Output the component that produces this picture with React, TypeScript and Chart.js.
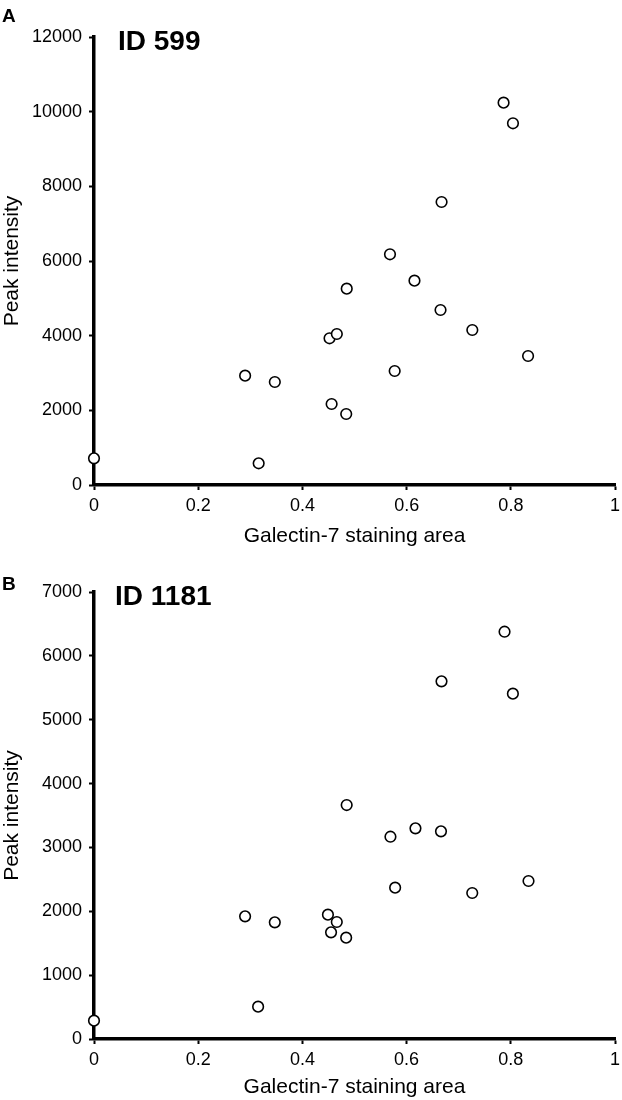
import React, { useEffect, useRef } from 'react';
import { Chart, registerables } from 'chart.js';

Chart.register(...registerables);

// ---- Data ----
const galectinAreaA = [0, 0.29, 0.316, 0.347, 0.452, 0.456, 0.466, 0.484, 0.485, 0.568, 0.577, 0.615, 0.665, 0.667, 0.726, 0.786, 0.804, 0.833];
const peakIntensityA = [714, 2929, 581, 2759, 3930, 2170, 4045, 1902, 5259, 6180, 3054, 5473, 4688, 7581, 4152, 10241, 9689, 3456];

const galectinAreaB = [0, 0.29, 0.315, 0.347, 0.449, 0.455, 0.466, 0.484, 0.485, 0.569, 0.578, 0.617, 0.666, 0.667, 0.726, 0.788, 0.804, 0.834];
const peakIntensityB = [287, 1921, 506, 1827, 1947, 1670, 1832, 1587, 3664, 3168, 2370, 3299, 3252, 5601, 2286, 6378, 5408, 2474];

const xTicks = [0, 0.2, 0.4, 0.6, 0.8, 1];
const yTicksA = [0, 2000, 4000, 6000, 8000, 10000, 12000];
const yTicksB = [0, 1000, 2000, 3000, 4000, 5000, 6000, 7000];

const panelLetters = ['A', 'B'];
const panelTitles = ['ID 599', 'ID 1181'];
const xAxisTitle = 'Galectin-7 staining area';
const yAxisTitle = 'Peak intensity';

const FONT = '"Liberation Sans", Arial, Helvetica, sans-serif';

const labelPlugin = {
  id: 'panelLabels',
  afterDraw(chart: any, _args: any, opts: any) {
    const ctx = chart.ctx;
    ctx.save();
    ctx.fillStyle = '#000';
    ctx.textBaseline = 'alphabetic';
    ctx.textAlign = 'left';
    ctx.font = `bold 19px ${FONT}`;
    ctx.fillText(opts.letter, 2, opts.letterY);
    ctx.font = `bold 28px ${FONT}`;
    ctx.fillText(opts.title, opts.titleX, opts.titleY);
    ctx.restore();
  },
};

type PanelProps = {
  xs: number[];
  ys: number[];
  yTicks: number[];
  letter: string;
  title: string;
  top: number;
  height: number;
  padTop: number;
  padRight: number;
  xAxisHeight: number;
  letterY: number;
  titleX: number;
  titleY: number;
};

function Panel(p: PanelProps) {
  const ref = useRef<HTMLCanvasElement | null>(null);
  useEffect(() => {
    if (!ref.current) return;
    const data = p.xs.map((x, i) => ({ x, y: p.ys[i] }));
    const yMax = p.yTicks[p.yTicks.length - 1];
    const chart = new Chart(ref.current, {
      type: 'scatter',
      data: {
        datasets: [
          {
            data,
            pointRadius: 5.3,
            pointHoverRadius: 5.3,
            pointBorderWidth: 1.6,
            pointBorderColor: '#000',
            pointBackgroundColor: '#fff',
            pointStyle: 'circle',
            showLine: false,
            clip: false as any,
          },
        ],
      },
      options: {
        responsive: false,
        animation: false,
        events: [],
        layout: { padding: { top: p.padTop, right: p.padRight, left: 0, bottom: 0 } },
        plugins: {
          legend: { display: false },
          tooltip: { enabled: false },
          panelLabels: { letter: p.letter, title: p.title, letterY: p.letterY, titleX: p.titleX, titleY: p.titleY },
        } as any,
        scales: {
          x: {
            type: 'linear',
            min: 0,
            max: 1,
            afterBuildTicks: (s: any) => {
              s.ticks = xTicks.map((v) => ({ value: v }));
            },
            afterFit: (s: any) => {
              s.height = p.xAxisHeight;
              s.paddingLeft = 0;
              s.paddingRight = 0;
            },
            grid: {
              drawOnChartArea: false,
              drawTicks: true,
              tickLength: 5,
              tickWidth: 2,
              tickColor: '#000',
            },
            border: { display: true, color: '#000', width: 3.5 },
            ticks: {
              color: '#000',
              padding: 5,
              maxRotation: 0,
              autoSkip: false,
              callback: (v: any) => String(v),
              font: { family: FONT, size: 18 },
            },
            title: {
              display: true,
              text: xAxisTitle,
              color: '#000',
              padding: { top: 0, bottom: 0 },
              font: { family: FONT, size: 21 },
            },
          },
          y: {
            type: 'linear',
            min: 0,
            max: yMax,
            afterBuildTicks: (s: any) => {
              s.ticks = p.yTicks.map((v) => ({ value: v }));
            },
            afterFit: (s: any) => {
              s.width = 94;
              s.paddingTop = 0;
              s.paddingBottom = 0;
            },
            grid: {
              drawOnChartArea: false,
              drawTicks: true,
              tickLength: 5,
              tickWidth: 2,
              tickColor: '#000',
            },
            border: { display: true, color: '#000', width: 3.5 },
            ticks: {
              color: '#000',
              padding: 7,
              autoSkip: false,
              callback: (v: any) => String(v),
              font: { family: FONT, size: 18 },
            },
            title: {
              display: true,
              text: yAxisTitle,
              color: '#000',
              padding: { top: 0, bottom: 0 },
              font: { family: FONT, size: 21 },
            },
          },
        },
      },
      plugins: [labelPlugin as any],
    });
    return () => chart.destroy();
  }, []);
  return (
    <div style={{ position: 'absolute', left: 0, top: p.top, width: 622, height: p.height }}>
      <canvas ref={ref} width={622} height={p.height} style={{ display: 'block', width: 622, height: p.height }} />
    </div>
  );
}

export default function App() {
  return (
    <div style={{ position: 'absolute', left: 0, top: 0, width: 622, height: 1100, background: '#fff', overflow: 'hidden' }}>
      <Panel
        xs={galectinAreaA}
        ys={peakIntensityA}
        yTicks={yTicksA}
        letter={panelLetters[0]}
        title={panelTitles[0]}
        top={0}
        height={549}
        padTop={37}
        padRight={2}
        xAxisHeight={64}
        letterY={22}
        titleX={118}
        titleY={50}
      />
      <Panel
        xs={galectinAreaB}
        ys={peakIntensityB}
        yTicks={yTicksB}
        letter={panelLetters[1]}
        title={panelTitles[1]}
        top={549}
        height={551}
        padTop={43}
        padRight={7}
        xAxisHeight={61}
        letterY={41}
        titleX={115}
        titleY={56}
      />
    </div>
  );
}
